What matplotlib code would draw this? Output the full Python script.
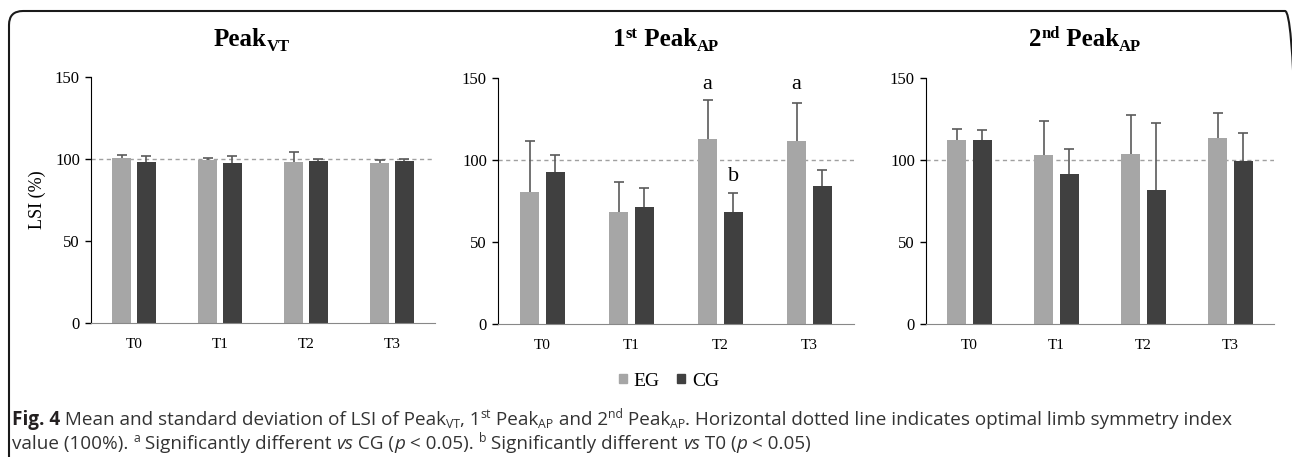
import numpy as np
import matplotlib
matplotlib.use('Agg')
import matplotlib.pyplot as plt
from matplotlib.patches import FancyBboxPatch, Patch
from matplotlib.transforms import IdentityTransform

# Data (LSI %, mean and upper SD)
times = ['T0', 'T1', 'T2', 'T3']

vt_eg = [100.4, 99.4, 98.4, 97.8]
vt_eg_sd = [1.8, 1.2, 5.9, 1.4]
vt_cg = [98.2, 97.6, 98.6, 98.8]
vt_cg_sd = [3.4, 4.0, 1.4, 1.2]

ap1_eg = [80.5, 68.5, 113.0, 111.8]
ap1_eg_sd = [31.1, 18.3, 23.6, 22.8]
ap1_cg = [92.9, 71.3, 68.5, 84.3]
ap1_cg_sd = [9.9, 11.4, 11.2, 9.8]

ap2_eg = [112.0, 102.8, 103.5, 113.2]
ap2_eg_sd = [6.9, 20.8, 23.9, 15.3]
ap2_cg = [112.0, 91.5, 81.7, 99.2]
ap2_cg_sd = [6.3, 15.4, 40.9, 17.5]

# significance letters: (panel, time index, group, letter, y)
marks = [(1, 2, 'EG', 'a', 146), (1, 3, 'EG', 'a', 146), (1, 2, 'CG', 'b', 90)]

W, H = 1292, 457
SERIF = 'Liberation Serif'
SANS = ['Open Sans', 'DejaVu Sans']
EG_COL = '#a6a6a6'
CG_COL = '#404040'

fig = plt.figure(figsize=(W / 100, H / 100), dpi=100)
fig.patch.set_facecolor('white')

# axes rectangles in pixels: left, bottom, width, height
rects = [(91, 134, 344, 246), (498, 133, 356, 246), (926, 133, 348, 246)]
panels = [(vt_eg, vt_eg_sd, vt_cg, vt_cg_sd),
          (ap1_eg, ap1_eg_sd, ap1_cg, ap1_cg_sd),
          (ap2_eg, ap2_eg_sd, ap2_cg, ap2_cg_sd)]

x = np.arange(len(times))
bw = 0.22
off = 0.145


def upper_err(ax, xs, ys, sd):
    # only the upper whisker with a cap, like the original
    _, caps, _ = ax.errorbar(xs, ys, yerr=[np.zeros(len(ys)), sd], fmt='none',
                             ecolor='#5a5a5a', elinewidth=1.2, capsize=3.5,
                             capthick=1.2, zorder=3)
    for c in caps:
        if np.allclose(c.get_ydata(), ys):
            c.set_visible(False)


axes = []
for (l, b, w, h), (eg, egsd, cg, cgsd) in zip(rects, panels):
    ax = fig.add_axes([l / W, b / H, w / W, h / H])
    axes.append(ax)
    ax.axhline(100, color='#a0a0a0', lw=1, ls=(0, (3, 2.5)), zorder=1)
    ax.bar(x - off, eg, bw, color=EG_COL, zorder=2)
    ax.bar(x + off, cg, bw, color=CG_COL, zorder=2)
    upper_err(ax, x - off, eg, egsd)
    upper_err(ax, x + off, cg, cgsd)
    ax.set_xlim(-0.5, 3.5)
    ax.set_ylim(0, 150)
    ax.set_yticks([0, 50, 100, 150])
    ax.set_xticks(x)
    ax.set_xticklabels(times)
    for s in ['top', 'right']:
        ax.spines[s].set_visible(False)
    ax.spines['left'].set_color('black')
    ax.spines['bottom'].set_color('#888888')
    ax.tick_params(axis='y', length=4, width=1, pad=4, labelsize=12)
    ax.tick_params(axis='x', length=0, pad=11, labelsize=11)
    for lab in ax.get_xticklabels() + ax.get_yticklabels():
        lab.set_family(SERIF)

for p, i, grp, letter, yy in marks:
    xx = i - off if grp == 'EG' else i + off
    axes[p].text(xx, yy, letter, ha='center', va='center', family=SERIF, fontsize=16)

fig.text(37 / W, 257 / H, 'LSI (%)', rotation=90, ha='center', va='center',
         family=SERIF, fontsize=13)

renderer = fig.canvas.get_renderer()
ID = IdentityTransform()


def run_width(s, kw):
    t1 = fig.text(0, 0, '|' + s + '|', transform=ID, **kw)
    t2 = fig.text(0, 0, '||', transform=ID, **kw)
    w = t1.get_window_extent(renderer).width - t2.get_window_extent(renderer).width
    t1.remove()
    t2.remove()
    return w


def draw_runs(runs, x0, y0, ha='left'):
    widths = [run_width(s, kw) for s, kw, dy in runs]
    total = sum(widths)
    xx = x0 - total / 2 if ha == 'center' else x0
    for (s, kw, dy), w in zip(runs, widths):
        fig.text(xx, y0 + dy, s, transform=ID, va='baseline', ha='left', **kw)
        xx += w


# panel titles
tb = dict(family=SERIF, weight='bold', size=18)
ts = dict(family=SERIF, weight='bold', size=12)
draw_runs([('Peak', tb, 0), ('VT', ts, -5)], 252, 411, 'center')
draw_runs([('1', tb, 0), ('st', ts, 8), (' Peak', tb, 0), ('AP', ts, -5)], 666, 411, 'center')
draw_runs([('2', tb, 0), ('nd', ts, 8), (' Peak', tb, 0), ('AP', ts, -5)], 1085, 411, 'center')

# legend
handles = [Patch(color=EG_COL, label='EG'), Patch(color=CG_COL, label='CG')]
fig.legend(handles=handles, loc='center', bbox_to_anchor=(669 / W, 76 / H), ncol=2,
           frameon=False, handlelength=0.4, handleheight=0.4, handletextpad=0.35,
           columnspacing=0.9, prop=dict(family=SERIF, size=14), borderpad=0)

# caption
cs = 13.6
cc = '#333333'
reg = dict(family=SANS, size=cs, color=cc)
bold = dict(family=SANS, size=cs, color='#231f20', weight='bold')
ital = dict(family=SANS, size=cs, color=cc, style='italic')
small = dict(family=SANS, size=cs * 0.65, color=cc)
line1 = [('Fig. 4', bold, 0), (' Mean and standard deviation of LSI of Peak', reg, 0),
         ('VT', small, -3), (', 1', reg, 0), ('st', small, 7), (' Peak', reg, 0),
         ('AP', small, -3), (' and 2', reg, 0), ('nd', small, 7), (' Peak', reg, 0),
         ('AP', small, -3),
         ('. Horizontal dotted line indicates optimal limb symmetry index', reg, 0)]
line2 = [('value (100%). ', reg, 0), ('a', small, 7), (' Significantly different ', reg, 0),
         ('vs', ital, 0), (' CG (', reg, 0), ('p', ital, 0), (' < 0.05). ', reg, 0),
         ('b', small, 7), (' Significantly different ', reg, 0), ('vs', ital, 0),
         (' T0 (', reg, 0), ('p', ital, 0), (' < 0.05)', reg, 0)]
draw_runs(line1, 12, 32)
draw_runs(line2, 12, 8)

# rounded frame (right and bottom edges run off the image)
frame = FancyBboxPatch((9, -40), 1290, 486, boxstyle='round,pad=0,rounding_size=14',
                       transform=ID, fill=False, edgecolor='#1a1a1a', lw=1.5)
fig.add_artist(frame)

fig.savefig('out.png', dpi=100, facecolor='white')
